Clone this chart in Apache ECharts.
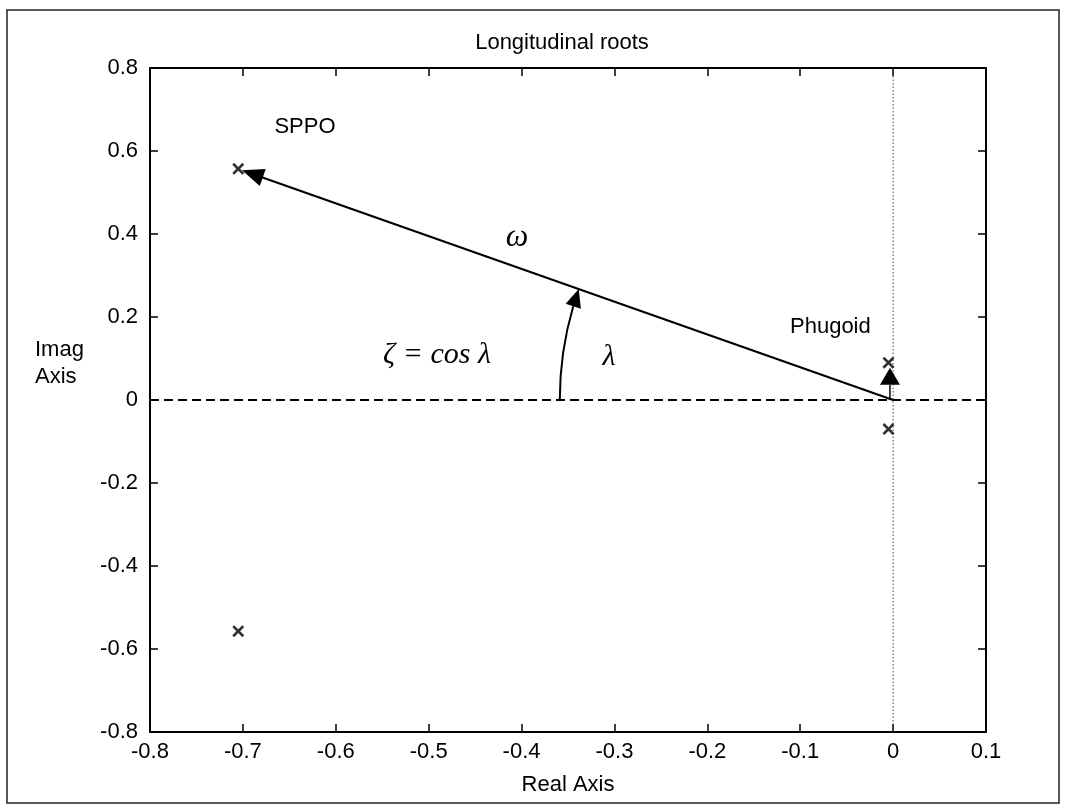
<!DOCTYPE html>
<html><head><meta charset="utf-8">
<script src="https://cdn.jsdelivr.net/npm/echarts@6/dist/echarts.min.js"></script>
<style>html,body{margin:0;padding:0;background:#fff}#c{width:1066px;height:807px}</style>
</head><body><div id="c"></div>
<script>
// ---- data ----
const xRange = [-0.8, 0.1];
const xStep = 0.1;
const yRange = [-0.8, 0.8];
const yStep = 0.2;
const sppoRe = [-0.705, -0.705];
const sppoIm = [0.557, -0.557];
const phugRe = [-0.005, -0.005];
const phugIm = [0.09, -0.07];
const origin = [0, 0];
const titleText = 'Longitudinal roots';
const xName = 'Real Axis';
const yName = ['Imag', 'Axis'];

const FONT = 'Liberation Sans, Arial, sans-serif';
const SERIF = 'Liberation Serif, Times New Roman, serif';
const crossPath = 'path://M0,1.6 L1.6,0 L5,3.4 L8.4,0 L10,1.6 L6.6,5 L10,8.4 L8.4,10 L5,6.6 L1.6,10 L0,8.4 L3.4,5 Z';

const poles = sppoRe.map((r, i) => [r, sppoIm[i]]).concat(phugRe.map((r, i) => [r, phugIm[i]]));

const axisCommon = {
  type: 'value',
  splitLine: { show: false },
  axisLine: { show: true, onZero: false, lineStyle: { color: '#000', width: 2 } },
  axisTick: { show: true, inside: true, length: 8, lineStyle: { color: '#000', width: 1.5 } }
};

const option = {
  animation: false,
  backgroundColor: '#fff',
  title: {
    text: titleText, left: 557, top: 27, textAlign: 'center',
    textStyle: { fontFamily: FONT, fontSize: 22, fontWeight: 'normal', color: '#000' }
  },
  grid: { left: 150, right: 80, top: 68, bottom: 75, containLabel: false },
  xAxis: [
    Object.assign({}, axisCommon, {
      min: xRange[0], max: xRange[1], interval: xStep, position: 'bottom',
      name: xName, nameLocation: 'middle', nameGap: 42,
      nameTextStyle: { fontFamily: FONT, fontSize: 22, color: '#000' },
      axisLabel: { margin: 9, fontFamily: FONT, fontSize: 22, color: '#000' }
    }),
    Object.assign({}, axisCommon, {
      min: xRange[0], max: xRange[1], interval: xStep, position: 'top',
      axisLabel: { show: false }
    })
  ],
  yAxis: [
    Object.assign({}, axisCommon, {
      min: yRange[0], max: yRange[1], interval: yStep, position: 'left',
      axisLabel: { margin: 12, fontFamily: FONT, fontSize: 22, color: '#000' }
    }),
    Object.assign({}, axisCommon, {
      min: yRange[0], max: yRange[1], interval: yStep, position: 'right',
      axisLabel: { show: false }
    })
  ],
  series: [
    {
      type: 'line', xAxisIndex: 0, yAxisIndex: 0, symbol: 'none',
      data: [[xRange[0], 0], [xRange[1], 0]],
      lineStyle: { color: '#000', width: 1.8, type: [9, 5] }, z: 2
    },
    {
      type: 'line', xAxisIndex: 0, yAxisIndex: 0, symbol: 'none',
      data: [[0, yRange[0]], [0, yRange[1]]],
      lineStyle: { color: '#444', width: 1, type: [1.5, 2] }, z: 2
    },
    {
      type: 'scatter', xAxisIndex: 0, yAxisIndex: 0,
      symbol: crossPath, symbolSize: 12,
      itemStyle: { color: '#000' },
      data: poles, z: 5
    }
  ]
};

const chart = echarts.init(document.getElementById('c'));
chart.setOption(option);

function px(p) { return chart.convertToPixel({ xAxisIndex: 0, yAxisIndex: 0 }, p); }
function head(tip, dir, len, hw) {
  const bx = tip[0] - dir[0] * len, by = tip[1] - dir[1] * len;
  const nx = -dir[1], ny = dir[0];
  return { pts: [[tip[0], tip[1]], [bx + nx * hw, by + ny * hw], [bx - nx * hw, by - ny * hw]], base: [bx, by] };
}
const O = px(origin);
const S = px([sppoRe[0], sppoIm[0]]);
const P = px([phugRe[0], phugIm[0]]);
const P0 = px([phugRe[0], 0]);

// main arrow (omega)
let dx = S[0] - O[0], dy = S[1] - O[1];
const L = Math.hypot(dx, dy);
const u = [dx / L, dy / L];
const tipS = [S[0] - u[0] * 4, S[1] - u[1] * 4];
const hS = head(tipS, u, 22, 9);

// phugoid arrow (vertical, from real axis up to the upper phugoid root)
const u2 = [0, -1];
const tipP = [P[0] + 1.5, P[1] + 5];
const hP = head(tipP, u2, 17, 10);

// angle arc
const r = 0.48 * L;
let th = Math.atan2(u[1], u[0]);
if (th < 0) th += 2 * Math.PI;
const hl = 18;
const thBase = th - hl / r;
const T = [O[0] + r * Math.cos(th), O[1] + r * Math.sin(th)];
const B = [O[0] + r * Math.cos(thBase), O[1] + r * Math.sin(thBase)];
const bl = Math.hypot(T[0] - B[0], T[1] - B[1]);
const hA = head(T, [(T[0] - B[0]) / bl, (T[1] - B[1]) / bl], hl, 8);

const textStyleBase = { fontFamily: FONT, fontSize: 22, fill: '#000' };

chart.setOption({
  graphic: [
    { type: 'rect', shape: { x: 7, y: 10, width: 1052, height: 793 }, style: { fill: null, stroke: '#222', lineWidth: 1.5 }, silent: true },
    { type: 'line', shape: { x1: O[0], y1: O[1], x2: hS.base[0] + u[0] * 4, y2: hS.base[1] + u[1] * 4 }, style: { stroke: '#000', lineWidth: 2.2 }, z: 10 },
    { type: 'polygon', shape: { points: hS.pts }, style: { fill: '#000' }, z: 10 },
    { type: 'line', shape: { x1: tipP[0], y1: P0[1], x2: hP.base[0], y2: hP.base[1] }, style: { stroke: '#000', lineWidth: 1.5 }, z: 10 },
    { type: 'polygon', shape: { points: hP.pts }, style: { fill: '#000' }, z: 10 },
    { type: 'arc', shape: { cx: O[0], cy: O[1], r: r, startAngle: Math.PI, endAngle: thBase, clockwise: true }, style: { stroke: '#000', lineWidth: 2, fill: null }, z: 10 },
    { type: 'polygon', shape: { points: hA.pts }, style: { fill: '#000' }, z: 10 },
    { type: 'text', x: 305, y: 127, style: Object.assign({ text: 'SPPO', align: 'center', verticalAlign: 'middle' }, textStyleBase) },
    { type: 'text', x: 790, y: 327, style: Object.assign({ text: 'Phugoid', align: 'left', verticalAlign: 'middle' }, textStyleBase) },
    { type: 'text', x: 35, y: 350, style: Object.assign({ text: yName[0], align: 'left', verticalAlign: 'middle' }, textStyleBase) },
    { type: 'text', x: 35, y: 377, style: Object.assign({ text: yName[1], align: 'left', verticalAlign: 'middle' }, textStyleBase) },
    { type: 'text', x: 517, y: 238, style: { text: 'ω', align: 'center', verticalAlign: 'middle', fontFamily: SERIF, fontStyle: 'italic', fontSize: 32, fill: '#000' } },
    { type: 'text', x: 437, y: 355, style: { text: 'ζ = cos λ', align: 'center', verticalAlign: 'middle', fontFamily: SERIF, fontStyle: 'italic', fontSize: 30, fill: '#000' } },
    { type: 'text', x: 609, y: 357, style: { text: 'λ', align: 'center', verticalAlign: 'middle', fontFamily: SERIF, fontStyle: 'italic', fontSize: 30, fill: '#000' } }
  ]
});
</script>
</body></html>
